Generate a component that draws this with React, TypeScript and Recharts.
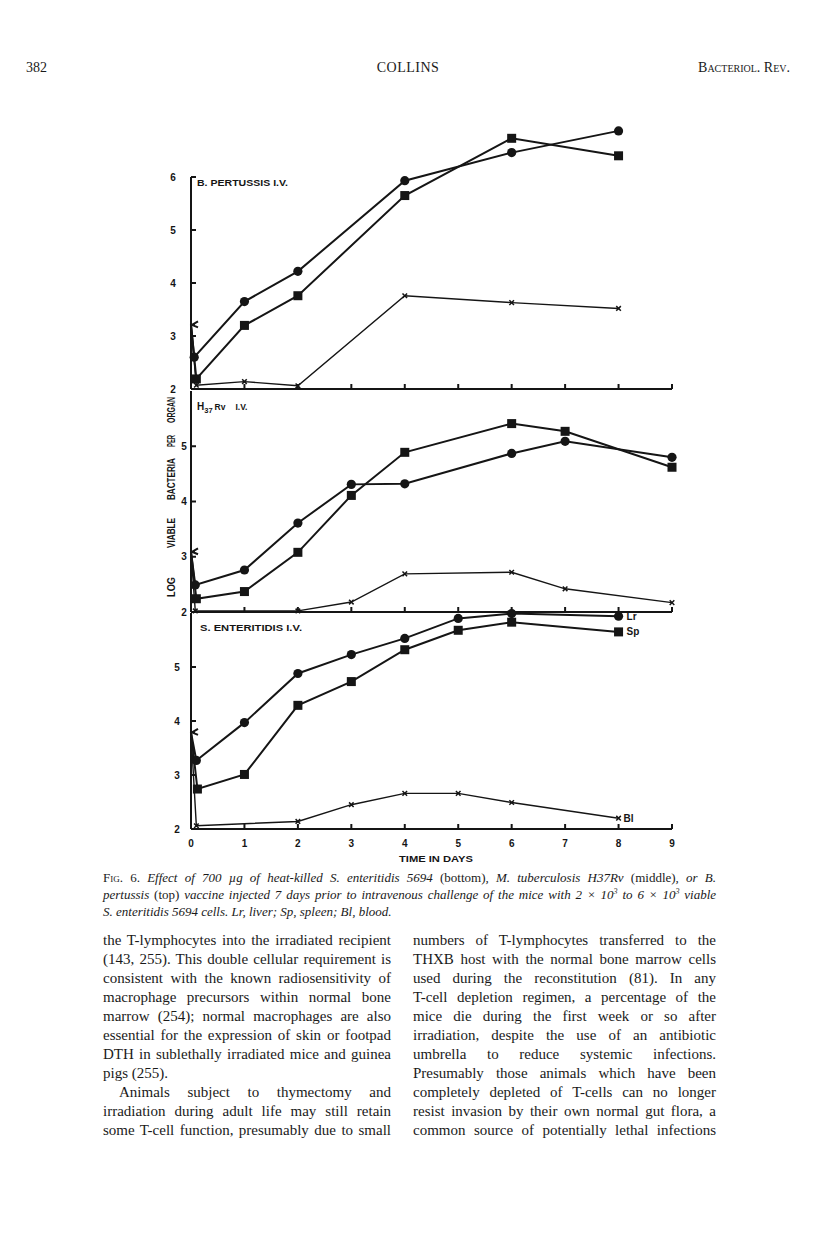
import React from "react";
import { LineChart, Line, XAxis, YAxis, ReferenceLine, LabelList } from "recharts";

const INK = "#151515";
const SANS = "'Liberation Sans', Arial, sans-serif";
const SERIF = "'Liberation Serif', 'Times New Roman', serif";

const PLOT_LEFT = 191;
const PLOT_RIGHT = 672;
const Y_W = 30;

// ---- values (log viable bacteria per organ) ----
const dayTicks = [0, 1, 2, 3, 4, 5, 6, 7, 8, 9];
const topYTicks = [2, 3, 4, 5, 6];
const lowerYTicks = [2, 3, 4, 5];

// inoculum at time 0: top, middle, bottom panel
const inoculum = [3.21, 3.09, 3.79];

// B. pertussis I.V. (top)
const pertussisLrDays = [0.06, 1, 2, 4, 6, 8];
const pertussisLr = [2.6, 3.65, 4.22, 5.93, 6.46, 6.87];
const pertussisSpDays = [0.1, 1, 2, 4, 6, 8];
const pertussisSp = [2.19, 3.2, 3.76, 5.65, 6.73, 6.4];
const pertussisBlDays = [0.1, 1, 2, 4, 6, 8];
const pertussisBl = [2.07, 2.14, 2.06, 3.76, 3.63, 3.52];

// H37Rv I.V. (middle)
const h37LrDays = [0.08, 1, 2, 3, 4, 6, 7, 9];
const h37Lr = [2.49, 2.76, 3.61, 4.31, 4.32, 4.87, 5.09, 4.8];
const h37SpDays = [0.1, 1, 2, 3, 4, 6, 7, 9];
const h37Sp = [2.24, 2.37, 3.08, 4.11, 4.89, 5.41, 5.27, 4.62];
const h37BlDays = [0.08, 2, 3, 4, 6, 7, 9];
const h37Bl = [2.02, 2.02, 2.18, 2.69, 2.72, 2.42, 2.17];

// S. enteritidis I.V. (bottom)
const enteritidisLrDays = [0.1, 1, 2, 3, 4, 5, 6, 8];
const enteritidisLr = [3.27, 3.97, 4.88, 5.23, 5.53, 5.9, 5.99, 5.94];
const enteritidisSpDays = [0.12, 1, 2, 3, 4, 5, 6, 8];
const enteritidisSp = [2.74, 3.01, 4.29, 4.73, 5.32, 5.68, 5.83, 5.65];
const enteritidisBlDays = [0.1, 2, 3, 4, 5, 6, 8];
const enteritidisBl = [2.06, 2.14, 2.45, 2.66, 2.66, 2.49, 2.2];

const toPoints = (days: number[], vals: number[], start: number) => [
  { day: 0, v: start },
  ...days.map((d, i) => ({ day: d, v: vals[i] })),
];

// ---- markers ----
const circleDot = (p: any) =>
  p.index === 0 ? <g key={`c${p.index}`} /> : <circle key={`c${p.index}`} cx={p.cx} cy={p.cy} r={4.6} fill={INK} />;

const squareDot = (p: any) =>
  p.index === 0 ? <g key={`s${p.index}`} /> : (
    <rect key={`s${p.index}`} x={p.cx - 4.5} y={p.cy - 4.5} width={9} height={9} fill={INK} />
  );

const crossDot = (p: any) =>
  p.index === 0 ? <g key={`x${p.index}`} /> : (
    <path
      key={`x${p.index}`}
      d={`M${p.cx - 2.3},${p.cy - 2.3}L${p.cx + 2.3},${p.cy + 2.3}M${p.cx - 2.3},${p.cy + 2.3}L${p.cx + 2.3},${p.cy - 2.3}`}
      stroke={INK}
      strokeWidth={1.5}
    />
  );

const inocDot = (p: any) => (
  <path
    key={`i${p.index}`}
    d={`M${p.cx + 7},${p.cy - 3.5}L${p.cx + 1},${p.cy}L${p.cx + 7},${p.cy + 2.5}M${p.cx},${p.cy}L${p.cx + 4},${p.cy}`}
    stroke={INK}
    strokeWidth={2}
    fill="none"
  />
);

// ---- axis ticks (drawn pointing into the plot, as in the print) ----
function YTick(props: any) {
  const { x, y, payload, base, labelDx } = props;
  return (
    <g>
      {payload.value !== base && <line x1={x} x2={x + 5} y1={y} y2={y} stroke={INK} strokeWidth={2} />}
      <text x={x + labelDx} y={y} dy={3.5} textAnchor="middle" fontFamily={SANS} fontWeight={700} fontSize={10} fill={INK}>
        {payload.value}
      </text>
    </g>
  );
}

function XTick(props: any) {
  const { x, y, payload, showLabel } = props;
  return (
    <g>
      {payload.value !== 0 && <line x1={x} x2={x} y1={y} y2={y - 5} stroke={INK} strokeWidth={2} />}
      {showLabel && (
        <text x={x} y={y + 18} textAnchor="middle" fontFamily={SANS} fontWeight={700} fontSize={10} fill={INK}>
          {payload.value}
        </text>
      )}
    </g>
  );
}

const endLabel = (text: string, last: number, dx: number) => (p: any) => {
  if (p.index !== last) return null;
  const x = p.x ?? p.viewBox?.x;
  const y = p.y ?? p.viewBox?.y;
  return (
    <text key={text} x={x + dx} y={y} dy={3.5} fontFamily={SANS} fontWeight={700} fontSize={10} fill={INK}>
      {text}
    </text>
  );
};

type SeriesDef = { days: number[]; vals: number[]; kind: "lr" | "sp" | "bl"; label?: string };

function Panel(props: {
  plotTop: number;
  plotH: number;
  domain: [number, number];
  yTicks: number[];
  labelDx: number;
  ownYAxisLine: boolean;
  showXLabels: boolean;
  inoc: number;
  series: SeriesDef[];
}) {
  const { plotTop, plotH, domain, yTicks, labelDx, ownYAxisLine, showXLabels, inoc, series } = props;
  const mTop = 8;
  const xAxisH = showXLabels ? 26 : 8;
  const height = mTop + plotH + xAxisH + 2;
  return (
    <div style={{ position: "absolute", left: 0, top: plotTop - mTop }}>
      <LineChart
        width={816}
        height={height}
        margin={{ top: mTop, right: 816 - PLOT_RIGHT, bottom: 2, left: PLOT_LEFT - Y_W }}
      >
        <XAxis
          type="number"
          dataKey="day"
          domain={[0, 9]}
          ticks={dayTicks}
          interval={0}
          height={xAxisH}
          axisLine={{ stroke: INK, strokeWidth: 2 }}
          tickLine={false}
          tickSize={0}
          tickMargin={0}
          tick={<XTick showLabel={showXLabels} />}
        />
        <YAxis
          type="number"
          dataKey="v"
          domain={domain}
          ticks={yTicks}
          interval={0}
          width={Y_W}
          axisLine={ownYAxisLine ? { stroke: INK, strokeWidth: 2 } : false}
          tickLine={false}
          tickSize={0}
          tickMargin={0}
          tick={<YTick base={domain[0]} labelDx={labelDx} />}
        />
        {!ownYAxisLine && (
          <ReferenceLine
            segment={[
              { x: 0, y: 2 },
              { x: 0, y: 6 },
            ]}
            stroke={INK}
            strokeWidth={2}
          />
        )}
        {series.map((s) => {
          const data = toPoints(s.days, s.vals, inoc);
          const dot = s.kind === "lr" ? circleDot : s.kind === "sp" ? squareDot : crossDot;
          return (
            <Line
              key={s.kind}
              data={data}
              dataKey="v"
              type="linear"
              stroke={INK}
              strokeWidth={s.kind === "bl" ? 1.4 : 2}
              dot={dot}
              isAnimationActive={false}
            >
              {s.label && (
                <LabelList dataKey="v" content={endLabel(s.label, data.length - 1, s.kind === "bl" ? 5 : 8)} />
              )}
            </Line>
          );
        })}
        <Line
          data={[{ day: 0, v: inoc }]}
          dataKey="v"
          stroke="none"
          dot={inocDot}
          isAnimationActive={false}
        />
      </LineChart>
    </div>
  );
}

const chartText = { fontFamily: SANS, fontWeight: 700, fill: INK } as const;

function Overlay() {
  return (
    <svg width={816} height={1243} style={{ position: "absolute", left: 0, top: 0, pointerEvents: "none" }}>
      <text transform="translate(175 0) rotate(-90)" fontSize={10} {...chartText}>
        <tspan x={-597} y={0} textLength={20} lengthAdjust="spacingAndGlyphs">LOG</tspan>
        <tspan x={-548} y={0} textLength={30} lengthAdjust="spacingAndGlyphs">VIABLE</tspan>
        <tspan x={-500} y={0} textLength={42} lengthAdjust="spacingAndGlyphs">BACTERIA</tspan>
        <tspan x={-447} y={0} textLength={12} lengthAdjust="spacingAndGlyphs">PER</tspan>
        <tspan x={-423} y={0} textLength={26} lengthAdjust="spacingAndGlyphs">ORGAN</tspan>
      </text>
      <text x={197} y={185.5} fontSize={9.5} textLength={91} lengthAdjust="spacingAndGlyphs" {...chartText}>
        B. PERTUSSIS I.V.
      </text>
      <text x={197} y={410} fontSize={10} {...chartText}>
        H<tspan fontSize={7.5} dy={3}>37</tspan>
        <tspan fontSize={8.5} dy={-3} dx={2}>Rv</tspan>
        <tspan fontSize={8.5} dx={10}>I.V.</tspan>
      </text>
      <text x={200} y={631} fontSize={9.5} textLength={102} lengthAdjust="spacingAndGlyphs" {...chartText}>
        S. ENTERITIDIS I.V.
      </text>
      <text x={399} y={862} fontSize={9} textLength={74} lengthAdjust="spacingAndGlyphs" {...chartText}>
        TIME IN DAYS
      </text>
    </svg>
  );
}

const just: React.CSSProperties = { textAlign: "justify", textAlignLast: "justify" };

function TextLine({ left, top, width, children, last, indent }: any) {
  return (
    <div
      style={{
        position: "absolute",
        left: left + (indent || 0),
        top,
        width: width - (indent || 0),
        height: 19,
        lineHeight: "19px",
        fontFamily: SERIF,
        fontSize: 15,
        color: "#1a1a1a",
        ...(last ? {} : just),
      }}
    >
      {children}
    </div>
  );
}

const leftLines = [
  "the T-lymphocytes into the irradiated recipient",
  "(143, 255). This double cellular requirement is",
  "consistent with the known radiosensitivity of",
  "macrophage precursors within normal bone",
  "marrow (254); normal macrophages are also",
  "essential for the expression of skin or footpad",
  "DTH in sublethally irradiated mice and guinea",
  "pigs (255).",
  "Animals subject to thymectomy and",
  "irradiation during adult life may still retain",
  "some T-cell function, presumably due to small",
];

const rightLines = [
  "numbers of T-lymphocytes transferred to the",
  "THXB host with the normal bone marrow cells",
  "used during the reconstitution (81). In any",
  "T-cell depletion regimen, a percentage of the",
  "mice die during the first week or so after",
  "irradiation, despite the use of an antibiotic",
  "umbrella to reduce systemic infections.",
  "Presumably those animals which have been",
  "completely depleted of T-cells can no longer",
  "resist invasion by their own normal gut flora, a",
  "common source of potentially lethal infections",
];

function Caption() {
  const base: React.CSSProperties = {
    position: "absolute",
    left: 103,
    width: 613,
    height: 17,
    lineHeight: "17px",
    fontFamily: SERIF,
    fontSize: 13,
    color: "#1a1a1a",
  };
  const up: React.CSSProperties = { fontStyle: "normal" };
  return (
    <>
      <div style={{ ...base, ...just, top: 869, fontStyle: "italic" }}>
        <span style={{ fontStyle: "normal", fontVariant: "small-caps" }}>Fig. 6.</span> Effect of 700 µg of heat-killed S.
        enteritidis 5694 <span style={up}>(bottom)</span>, M. tuberculosis H37Rv <span style={up}>(middle)</span>, or B.
      </div>
      <div style={{ ...base, ...just, top: 886, fontStyle: "italic" }}>
        pertussis <span style={up}>(top)</span> vaccine injected 7 days prior to intravenous challenge of the mice with 2 ×
        10<sup style={{ fontSize: 8, lineHeight: 0 }}>3</sup> to 6 × 10<sup style={{ fontSize: 8, lineHeight: 0 }}>3</sup>{" "}
        viable
      </div>
      <div style={{ ...base, top: 903, fontStyle: "italic" }}>S. enteritidis 5694 cells. Lr, liver; Sp, spleen; Bl, blood.</div>
    </>
  );
}

export default function App() {
  return (
    <div style={{ position: "absolute", left: 0, top: 0, width: 816, height: 1243, background: "#fff", overflow: "hidden" }}>
      {/* running head */}
      <div style={{ position: "absolute", left: 26, top: 60, fontFamily: SERIF, fontSize: 14, color: "#1a1a1a" }}>382</div>
      <div style={{ position: "absolute", left: 0, width: 816, top: 60, textAlign: "center", fontFamily: SERIF, fontSize: 14, color: "#1a1a1a", letterSpacing: 0.5 }}>
        COLLINS
      </div>
      <div style={{ position: "absolute", right: 26, top: 60, fontFamily: SERIF, fontSize: 14, fontVariant: "small-caps", color: "#1a1a1a" }}>
        Bacteriol. Rev.
      </div>

      <Panel
        plotTop={124}
        plotH={265}
        domain={[2, 7]}
        yTicks={topYTicks}
        labelDx={-18}
        ownYAxisLine={false}
        showXLabels={false}
        inoc={inoculum[0]}
        series={[
          { days: pertussisLrDays, vals: pertussisLr, kind: "lr" },
          { days: pertussisSpDays, vals: pertussisSp, kind: "sp" },
          { days: pertussisBlDays, vals: pertussisBl, kind: "bl" },
        ]}
      />
      <Panel
        plotTop={391}
        plotH={221}
        domain={[2, 6]}
        yTicks={lowerYTicks}
        labelDx={-7}
        ownYAxisLine={true}
        showXLabels={false}
        inoc={inoculum[1]}
        series={[
          { days: h37LrDays, vals: h37Lr, kind: "lr" },
          { days: h37SpDays, vals: h37Sp, kind: "sp" },
          { days: h37BlDays, vals: h37Bl, kind: "bl" },
        ]}
      />
      <Panel
        plotTop={613}
        plotH={216}
        domain={[2, 6]}
        yTicks={lowerYTicks}
        labelDx={-14}
        ownYAxisLine={true}
        showXLabels={true}
        inoc={inoculum[2]}
        series={[
          { days: enteritidisLrDays, vals: enteritidisLr, kind: "lr", label: "Lr" },
          { days: enteritidisSpDays, vals: enteritidisSp, kind: "sp", label: "Sp" },
          { days: enteritidisBlDays, vals: enteritidisBl, kind: "bl", label: "Bl" },
        ]}
      />
      <Overlay />

      <Caption />

      {leftLines.map((t, i) => (
        <TextLine key={`l${i}`} left={103} top={931 + i * 19} width={288} last={i === 7} indent={i === 8 ? 16 : 0}>
          {t}
        </TextLine>
      ))}
      {rightLines.map((t, i) => (
        <TextLine key={`r${i}`} left={413} top={931 + i * 19} width={303}>
          {t}
        </TextLine>
      ))}
    </div>
  );
}
